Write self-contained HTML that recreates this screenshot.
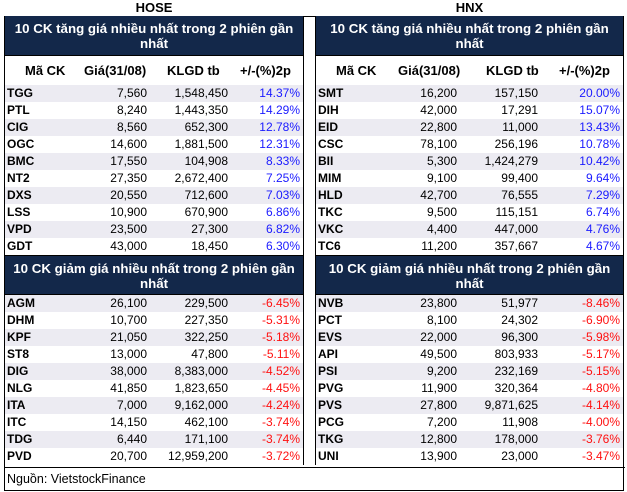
<!DOCTYPE html><html><head><meta charset="utf-8"><style>
body{margin:0;width:627px;height:492px;background:#fff;position:relative;font-family:"Liberation Sans",Arial,sans-serif;overflow:hidden}
.ex{position:absolute;font-weight:bold;font-size:13px;top:0;text-align:center}
.outer{position:absolute;left:4px;top:16px;width:618px;height:473px;border:1px solid #000}
.panel{position:absolute;top:16px;border-left:1px solid #000;border-right:1px solid #000}
.hd{background:#13284a;color:#fff;font-weight:bold;font-size:13.3px;text-align:center;height:40px;line-height:15px;padding-top:5px;box-sizing:border-box;border-bottom:1px solid #000}
.ch{height:29px;position:relative;font-weight:bold;font-size:13px}
.ch span{position:absolute;top:7px}
.r{height:17px;position:relative;font-size:12px;line-height:17px}
.r:nth-child(odd){background:#ecebf2}
.r span{position:absolute;top:0}
.c{font-weight:bold;left:2px}
.b{color:#1a1aff}.d{color:#ff1010}
</style></head><body>
<div class="ex" style="left:5px;width:298px">HOSE</div>
<div class="ex" style="left:316px;width:307px">HNX</div>
<div class="outer"></div>
<div style="position:absolute;left:4px;top:467px;width:618px;border-top:1px solid #000;font-size:12.5px;line-height:22px;padding-left:3px">Nguồn: VietstockFinance</div>

<div class="panel" style="left:4px;width:298px">
<div class="hd">10 CK tăng giá nhiều nhất trong 2 phiên gần<br>nhất</div>
<div class="ch"><span style="left:20px">Mã CK</span><span style="left:79px">Giá(31/08)</span><span style="left:162px">KLGD tb</span><span style="left:235px">+/-(%)2p</span></div>
<div id="a"></div>
<div class="hd" style="border-top:1px solid #000">10 CK giảm giá nhiều nhất trong 2 phiên gần<br>nhất</div>
<div id="b"></div>
</div>

<div class="panel" style="left:315px;width:307px">
<div class="hd">10 CK tăng giá nhiều nhất trong 2 phiên gần<br>nhất</div>
<div class="ch"><span style="left:20px">Mã CK</span><span style="left:82px">Giá(31/08)</span><span style="left:170px">KLGD tb</span><span style="left:243px">+/-(%)2p</span></div>
<div id="c"></div>
<div class="hd" style="border-top:1px solid #000">10 CK giảm giá nhiều nhất trong 2 phiên gần<br>nhất</div>
<div id="d"></div>
</div>
<script>
function f(id,rows,cls,p){var h='';rows.forEach(function(r){h+='<div class="r"><span class="c">'+r[0]+'</span><span style="right:'+p[0]+'px">'+r[1]+'</span><span style="right:'+p[1]+'px">'+r[2]+'</span><span class="'+cls+'" style="right:'+p[2]+'px">'+r[3]+'</span></div>'});document.getElementById(id).innerHTML=h}
var L=[156,75,3],R=[166,85,3];
f('a',[["TGG","7,560","1,548,450","14.37%"],["PTL","8,240","1,443,350","14.29%"],["CIG","8,560","652,300","12.78%"],["OGC","14,600","1,881,500","12.31%"],["BMC","17,550","104,908","8.33%"],["NT2","27,350","2,672,400","7.25%"],["DXS","20,550","712,600","7.03%"],["LSS","10,900","670,900","6.86%"],["VPD","23,500","27,300","6.82%"],["GDT","43,000","18,450","6.30%"]],'b',L);
f('b',[["AGM","26,100","229,500","-6.45%"],["DHM","10,700","227,350","-5.31%"],["KPF","21,050","322,250","-5.18%"],["ST8","13,000","47,800","-5.11%"],["DIG","38,000","8,383,000","-4.52%"],["NLG","41,850","1,823,650","-4.45%"],["ITA","7,000","9,162,000","-4.24%"],["ITC","14,150","462,100","-3.74%"],["TDG","6,440","171,100","-3.74%"],["PVD","20,700","12,959,200","-3.72%"]],'d',L);
f('c',[["SMT","16,200","157,150","20.00%"],["DIH","42,000","17,291","15.07%"],["EID","22,800","11,000","13.43%"],["CSC","78,100","256,196","10.78%"],["BII","5,300","1,424,279","10.42%"],["MIM","9,100","99,400","9.64%"],["HLD","42,700","76,555","7.29%"],["TKC","9,500","115,151","6.74%"],["VKC","4,400","447,000","4.76%"],["TC6","11,200","357,667","4.67%"]],'b',R);
f('d',[["NVB","23,800","51,977","-8.46%"],["PCT","8,100","24,302","-6.90%"],["EVS","22,000","96,300","-5.98%"],["API","49,500","803,933","-5.17%"],["PSI","9,200","232,169","-5.15%"],["PVG","11,900","320,364","-4.80%"],["PVS","27,800","9,871,625","-4.14%"],["PCG","7,200","11,908","-4.00%"],["TKG","12,800","178,000","-3.76%"],["UNI","13,900","23,000","-3.47%"]],'d',R);
</script>
</body></html>
